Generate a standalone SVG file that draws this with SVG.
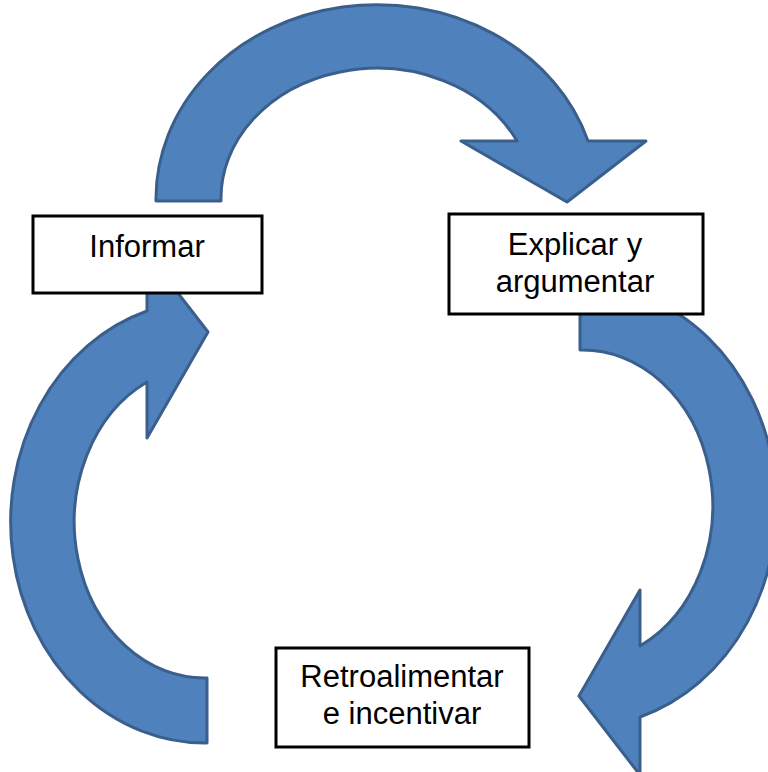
<svg xmlns="http://www.w3.org/2000/svg" xmlns:xlink="http://www.w3.org/1999/xlink" width="768" height="772" viewBox="0 0 768 772">
  <style>
    .arrow { fill: #4F81BD; stroke: #3A5F8C; stroke-width: 3; stroke-linejoin: round; }
    .box { fill: #FFFFFF; stroke: #000000; stroke-width: 3; }
    .lbl { font-family: "Liberation Sans", Arial, sans-serif; font-size: 31px; fill: #000000; text-anchor: middle; }
  </style>
  <defs>
    <path id="curvedArrow" d="M 156 201 A 221 194 0 0 1 588 141 L 646 141 L 567 202 L 461 141 L 517 141 A 156 130 0 0 0 221 201 Z"/>
  </defs>
  <rect width="768" height="772" fill="#FFFFFF"/>
  <g id="connectors">
    <use xlink:href="#curvedArrow" href="#curvedArrow" class="arrow"/>
    <use xlink:href="#curvedArrow" href="#curvedArrow" class="arrow" transform="translate(580,506) rotate(90) translate(-377,-201)"/>
    <use xlink:href="#curvedArrow" href="#curvedArrow" class="arrow" transform="translate(207,522) rotate(-90) translate(-377,-201)"/>
  </g>
  <g id="informar">
    <rect class="box" x="33" y="216" width="229" height="77"/>
    <text class="lbl" x="147" y="257">Informar</text>
  </g>
  <g id="explicar">
    <rect class="box" x="449" y="214" width="254" height="100"/>
    <text class="lbl" x="575" y="255">Explicar y</text>
    <text class="lbl" x="575" y="292">argumentar</text>
  </g>
  <g id="retroalimentar">
    <rect class="box" x="276" y="648" width="253" height="99"/>
    <text class="lbl" x="402" y="687">Retroalimentar</text>
    <text class="lbl" x="402" y="724">e incentivar</text>
  </g>
</svg>
